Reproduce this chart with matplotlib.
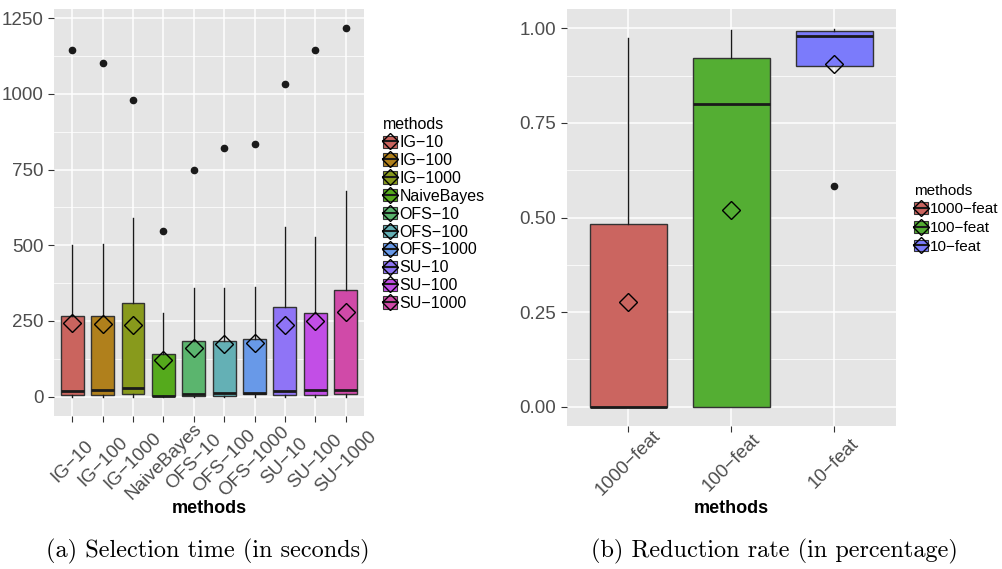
import numpy as np
import matplotlib
matplotlib.use("Agg")
import matplotlib.pyplot as plt
from matplotlib.patches import Patch
from matplotlib.lines import Line2D
from matplotlib.legend_handler import HandlerTuple

plt.rcParams['font.family'] = ['Liberation Sans', 'DejaVu Sans']

# (a) selection time
methods = ["IG−10", "IG−100", "IG−1000", "NaiveBayes", "OFS−10", "OFS−100",
           "OFS−1000", "SU−10", "SU−100", "SU−1000"]
time_q1 = [4, 4, 8, 1, 3, 3, 7, 4, 4, 8]
time_med = [19, 22, 29, 3, 9, 13, 13, 17, 21, 23]
time_q3 = [267, 265, 310, 142, 185, 185, 191, 297, 275, 353]
time_lo = [0, 0, 0, 0, 0, 0, 0, 0, 0, 0]
time_hi = [500, 505, 591, 277, 358, 358, 362, 561, 526, 679]
time_out = [1145, 1101, 981, 548, 747, 821, 833, 1031, 1145, 1217]
time_mean = [244, 239, 235, 120, 162, 173, 177, 237, 248, 281]
time_colors = ["#CA645E", "#B0801C", "#889A1C", "#55AA1C", "#5BB56E",
               "#64B0B5", "#6899E8", "#8F74F6", "#C24EE6", "#D04AA8"]

# (b) reduction rate
feats = ["1000−feat", "100−feat", "10−feat"]
red_q1 = [0.0, 0.0, 0.900]
red_med = [0.0, 0.799, 0.981]
red_q3 = [0.482, 0.922, 0.992]
red_lo = [0.0, 0.0, 0.900]
red_hi = [0.974, 0.997, 0.998]
red_out = [[], [], [0.583]]
red_mean = [0.277, 0.520, 0.907]
red_colors = ["#CB6560", "#54AE33", "#7B7BFB"]


def style_axes(ax, major, minor, ylim, n, xpad):
    ax.set_facecolor("#E5E5E5")
    for s in ax.spines.values():
        s.set_visible(False)
    ax.set_yticks(major)
    ax.set_yticks(minor, minor=True)
    ax.set_ylim(*ylim)
    ax.set_xlim(0.4, n + 0.6)
    ax.grid(which="major", color="white", lw=1.1)
    ax.grid(which="minor", axis="y", color="white", lw=0.55)
    ax.set_axisbelow(True)
    ax.tick_params(which="major", length=4, color="#333333", labelcolor="#4D4D4D",
                   labelsize=13.5)
    ax.tick_params(axis="x", pad=xpad)
    ax.tick_params(which="minor", length=0)


def draw(ax, labels, q1, med, q3, lo, hi, out, mean, colors, label_y):
    stats = []
    for i in range(len(labels)):
        stats.append(dict(label=labels[i], q1=q1[i], med=med[i], q3=q3[i],
                          whislo=lo[i], whishi=hi[i], mean=mean[i],
                          fliers=out[i] if isinstance(out[i], list) else [out[i]]))
    bp = ax.bxp(stats, positions=range(1, len(labels) + 1), widths=0.75,
                patch_artist=True, showmeans=True, showcaps=False,
                boxprops=dict(edgecolor="#333333", lw=1.0),
                medianprops=dict(color="#1A1A1A", lw=2.0),
                whiskerprops=dict(color="#1A1A1A", lw=1.0),
                flierprops=dict(marker="o", markerfacecolor="#1A1A1A",
                                markeredgecolor="#1A1A1A", markersize=4.5),
                meanprops=dict(marker="D", markerfacecolor="none",
                               markeredgecolor="black", markersize=9,
                               markeredgewidth=1.0))
    for patch, c in zip(bp["boxes"], colors):
        patch.set_facecolor(c)
    ax.set_xticks(range(1, len(labels) + 1))
    ax.set_xticklabels(labels, rotation=45, ha="center", va="center",
                       rotation_mode="anchor")
    ax.set_xlabel("methods", fontsize=13, fontweight="bold", color="black",
                  va="center")
    ax.xaxis.set_label_coords(0.5, label_y)


def add_legend(ax, labels, colors, anchor, fs, spacing):
    handles = []
    for c in colors:
        handles.append((Patch(facecolor=c, edgecolor="#333333", lw=0.8),
                        Line2D([], [], color="#1A1A1A", lw=1.5),
                        Line2D([], [], marker="D", ls="none", markerfacecolor="none",
                               markeredgecolor="black", markersize=8)))
    ax.legend(handles, labels, title="methods", loc="upper left",
              bbox_to_anchor=anchor, bbox_transform=ax.figure.transFigure,
              frameon=False, fontsize=fs, title_fontsize=fs,
              handler_map={tuple: HandlerTuple(ndivide=1, pad=0)},
              handlelength=0.9, handleheight=0.8, handletextpad=0.15,
              labelspacing=spacing, borderaxespad=0, alignment="left")


fig = plt.figure(figsize=(10.03, 5.69), dpi=100)
ax1 = fig.add_axes([0.0538, 0.269, 0.309, 0.715])
ax2 = fig.add_axes([0.565, 0.252, 0.3283, 0.732])

style_axes(ax1, [0, 250, 500, 750, 1000, 1250], [125, 375, 625, 875, 1125],
           (-64, 1280), len(methods), 28.8)
draw(ax1, methods, time_q1, time_med, time_q3, time_lo, time_hi, time_out,
     time_mean, time_colors, -0.2285)
add_legend(ax1, methods, time_colors, (0.375, 0.805), 11.5, 0.18)

style_axes(ax2, [0, 0.25, 0.5, 0.75, 1.0], [0.125, 0.375, 0.625, 0.875],
           (-0.05, 1.051), len(feats), 23)
ax2.set_yticklabels(["0.00", "0.25", "0.50", "0.75", "1.00"])
draw(ax2, feats, red_q1, red_med, red_q3, red_lo, red_hi, red_out,
     red_mean, red_colors, -0.200)
add_legend(ax2, feats, red_colors, (0.905, 0.688), 11, 0.3)

fig.text(0.207, 0.031, "(a) Selection time (in seconds)", family="cmr10",
         fontsize=17.5, ha="center", va="center")
fig.text(0.772, 0.031, "(b) Reduction rate (in percentage)", family="cmr10",
         fontsize=17.5, ha="center", va="center")

fig.savefig("out.png", dpi=100)
